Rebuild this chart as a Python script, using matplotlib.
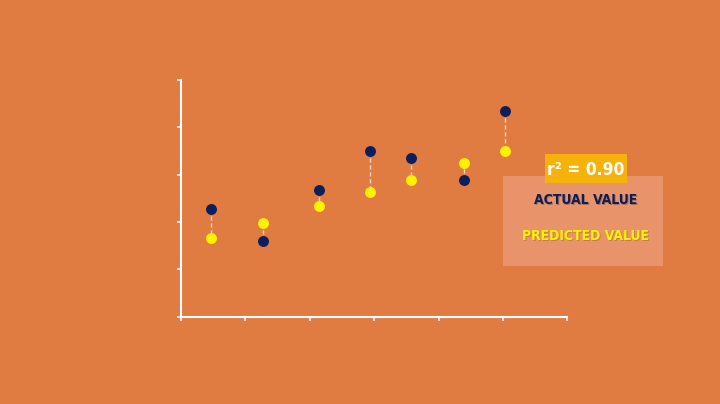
import matplotlib.pyplot as plt
from matplotlib.patches import Rectangle

bg = '#E07B42'
navy = '#0B1F5C'
yellow = '#FFF200'

x_pos = [0.47, 1.27, 2.15, 2.94, 3.57, 4.40, 5.04]
actual = [2.27, 1.59, 2.68, 3.49, 3.35, 2.88, 4.35]
predicted = [1.67, 1.98, 2.34, 2.64, 2.88, 3.24, 3.50]

fig = plt.figure(figsize=(7.2, 4.04), dpi=100)
fig.patch.set_facecolor(bg)
ax = fig.add_axes([0.2514, 0.2161, 0.5365, 0.5859])
ax.set_facecolor(bg)

for x, a, p in zip(x_pos, actual, predicted):
    ax.plot([x, x], [a, p], color='#F6D9C8', lw=1, ls=(0, (3, 2)), zorder=1)
ax.scatter(x_pos, predicted, s=62, color=yellow, zorder=3, linewidths=0)
ax.scatter(x_pos, actual, s=62, color=navy, zorder=3, linewidths=0)

ax.set_xlim(0, 6)
ax.set_ylim(0, 5)
ax.set_xticks(range(7))
ax.set_yticks(range(6))
ax.set_xticklabels([])
ax.set_yticklabels([])
for s in ['top', 'right']:
    ax.spines[s].set_visible(False)
for s in ['left', 'bottom']:
    ax.spines[s].set_color('white')
    ax.spines[s].set_linewidth(1.5)
ax.tick_params(colors='white', length=3, width=1.2)

# legend panel
fig.patches.append(Rectangle((503 / 720, 1 - 266 / 404), 160 / 720, 90 / 404,
                             transform=fig.transFigure, facecolor='#E8936A',
                             edgecolor='none', zorder=0))
fig.patches.append(Rectangle((545 / 720, 1 - 183 / 404), 82 / 720, 29 / 404,
                             transform=fig.transFigure, facecolor='#F4B20A',
                             edgecolor='none', zorder=1))
fams = ['DejaVu Sans']
txt = dict(fontweight='bold', ha='center', va='center', family=fams,
           fontstretch='condensed')
fig.text(586 / 720, 1 - 169.5 / 404, 'r² = 0.90', color='white', fontsize=12.5, **txt)
fig.text(586 / 720 + 0.0012, 1 - 200 / 404 - 0.0025, 'ACTUAL VALUE', color='#3a2a20',
         fontsize=10, alpha=0.35, **txt)
fig.text(586 / 720, 1 - 200 / 404, 'ACTUAL VALUE', color=navy, fontsize=10, **txt)
fig.text(586 / 720 + 0.0012, 1 - 236 / 404 - 0.0025, 'PREDICTED VALUE', color='#7a5a20',
         fontsize=10, alpha=0.35, **txt)
fig.text(586 / 720, 1 - 236 / 404, 'PREDICTED VALUE', color=yellow, fontsize=10, **txt)

fig.savefig('out.png', dpi=100, facecolor=bg)
